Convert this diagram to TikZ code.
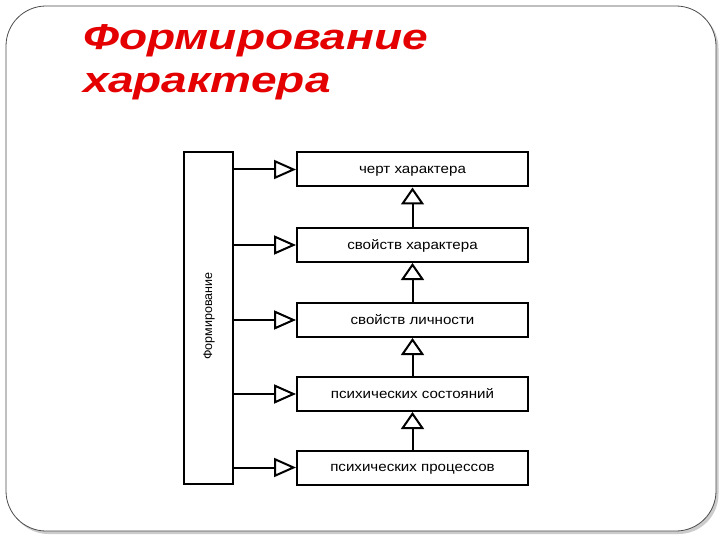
\documentclass[tikz,border=0pt]{standalone}
\usepackage{fontspec}
\setmainfont{Liberation Sans}
\usetikzlibrary{arrows.meta}
\definecolor{titlered}{RGB}{228,0,0}
\newcommand{\boxtext}[1]{\raisebox{-1.5pt}{\scalebox{1.12}[1]{#1}}}
\begin{document}
\begin{tikzpicture}[x=1pt,y=-1pt,
  box/.style={draw, line width=2pt, minimum width=231pt, minimum height=34pt, inner sep=0pt, text height=1ex, text depth=0pt, font=\fontsize{13.5}{15}\selectfont},
  conn/.style={line width=2pt, -{Triangle[open, length=22pt, width=19pt, line width=2pt]}},
  upconn/.style={line width=2pt, -{Triangle[open, length=17pt, width=23pt, line width=2pt]}},
  title/.style={anchor=base west, inner sep=0pt, text=titlered, font=\fontsize{36}{40}\selectfont\bfseries\itshape}]
\useasboundingbox (0,0) rectangle (720,540);
\fill[black!20, rounded corners=40pt] (8.5,8.5) rectangle (718.5,534);
\draw[fill=white, draw=black!70, line width=0.8pt, rounded corners=40pt] (6,6) rectangle (716,531);
\node[title] (t1) at (83,50) {\scalebox{1.28}[1]{Формирование}};
\node[title] (t2) at (83,93) {\scalebox{1.28}[1]{характера}};
\node[draw, line width=2pt, minimum width=49pt, minimum height=332pt, inner sep=0pt] (v) at (208.5,318) {};
\node[rotate=90, text height=1ex, text depth=0pt, font=\fontsize{12.5}{14}\selectfont] (vt) at (209.5,316) {Формирование};
\node[box] (b1) at (412.5,169.5) {\boxtext{черт характера}};
\node[box] (b2) at (412.5,245) {\boxtext{свойств характера}};
\node[box] (b3) at (412.5,320) {\boxtext{свойств личности}};
\node[box] (b4) at (412.5,394) {\boxtext{психических состояний}};
\node[box] (b5) at (412.5,467.5) {\boxtext{психических процессов}};
\foreach \b in {b1,b2,b3,b4,b5}{
  \draw[conn] (v.east |- \b.west) -- (\b.west);
}
\draw[upconn] (b2.north) -- (b1.south);
\draw[upconn] (b3.north) -- (b2.south);
\draw[upconn] (b4.north) -- (b3.south);
\draw[upconn] (b5.north) -- (b4.south);
\end{tikzpicture}
\end{document}
